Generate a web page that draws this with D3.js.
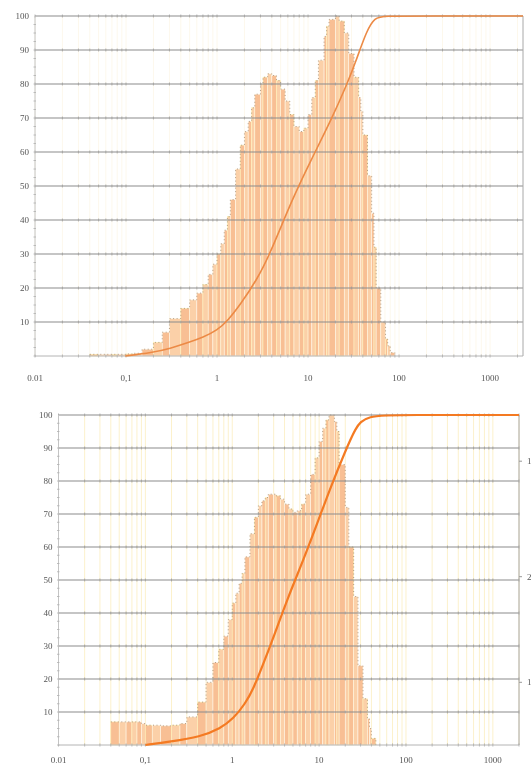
<!DOCTYPE html>
<html>
<head>
<meta charset="utf-8">
<script src="https://cdn.jsdelivr.net/npm/d3@7"></script>
<style>
  body { margin: 0; background: #fff; }
  svg { display: block; filter: blur(0.35px); }
  text { font-family: "Liberation Serif", "DejaVu Serif", serif; font-size: 9px; fill: #555; }
</style>
</head>
<body>
<div id="chart"></div>
<script>
// size classes (µm), bin i spans sizeEdges[i] .. sizeEdges[i+1]
const sizeEdges = [0.04, 0.05, 0.06, 0.07, 0.08, 0.09, 0.1, 0.12, 0.15, 0.2, 0.25, 0.3, 0.4, 0.5,
  0.6, 0.7, 0.8, 0.9, 1, 1.1, 1.2, 1.3, 1.4, 1.6, 1.8, 2, 2.2, 2.4, 2.6, 3, 3.2, 3.6, 4, 4.5, 5,
  5.6, 6.3, 7, 8, 9, 10, 11, 12, 13, 15, 16, 17, 20, 22, 25, 28, 32, 36, 38, 40, 45, 50, 53, 56,
  63, 71, 75, 80, 90, 100];

// relative frequency per class, upper chart (missing = 0)
const topFreq = [0.5, 0.5, 0.5, 0.5, 0.5, 0.5, 0.6, 0.8, 2, 4, 7, 11, 14, 16.5, 18.5, 21, 24, 27,
  30, 33, 37, 41, 46, 55, 62, 66, 69, 73, 77, 80, 82, 83, 82.5, 81, 78.5, 75, 71, 67.5, 66, 67,
  71, 76, 81, 87, 94, 97, 99, 100, 98.5, 95, 89, 82, 76, 72, 65, 53, 42, 32, 20, 10, 5, 3, 1, 0];

// relative frequency per class, lower chart
const bottomFreq = [7, 7, 7, 7, 7, 6.5, 6, 6, 5.8, 6, 6.5, 8.5, 13, 19, 25, 29, 33, 38, 43, 46,
  49, 52, 57, 64, 69, 72.5, 74, 75, 76, 76, 75.5, 74.5, 73, 71.5, 70.5, 71, 73, 76, 82, 87, 92,
  96, 98.5, 100, 98, 95, 85, 72, 60, 45, 24, 14, 8, 5, 2, 0];

// cumulative passing (%)
const topCumSize = [0.098, 0.193, 0.305, 0.49, 0.702, 1, 1.32, 1.79, 2.75, 3.82, 6.67, 10.5, 18.4,
  26.8, 32.9, 44.4, 54.5, 66.6, 200, 2300];
const topCumPct = [0, 1, 2.2, 4, 5.5, 7.5, 10.5, 15, 22.5, 30, 46, 57, 70, 80, 86, 96, 99.5, 100, 100, 100];
const bottomCumSize = [0.1, 0.193, 0.43, 0.73, 1.03, 1.41, 1.75, 2.27, 2.97, 4.42, 6.58, 9.79, 13.5,
  20, 26.1, 34.1, 100, 2000];
const bottomCumPct = [0, 1, 2.5, 5, 8, 12.5, 17, 24.5, 32.5, 45, 56, 68, 78, 89, 96, 100, 100, 100];

const yTicks = [10, 20, 30, 40, 50, 60, 70, 80, 90, 100];
const xTicks = [0.01, 0.1, 1, 10, 100, 1000];
const xTickLabels = ['0.01', '0,1', '1', '10', '100', '1000'];
const rightTickValues = [86, 51, 19];
const rightTickLabels = ['1', '2', '1'];

const width = 531;
const height = 765;

const svg = d3.select('#chart').append('svg')
  .attr('width', width)
  .attr('height', height);

function drawPanel(opts) {
  const x = d3.scaleLog().domain(opts.xDomain).range([opts.left, opts.right]);
  const y = d3.scaleLinear().domain([0, 100]).range([opts.bottom, opts.top]);
  const g = svg.append('g');

  const minors = [];
  xTicks.forEach(t => { for (let k = 1; k < 10; k++) minors.push(t * k); });
  const minorIn = minors.filter(m => m <= opts.xDomain[1]);

  // pale vertical log grid
  if (opts.vGrid) {
    g.append('g').selectAll('line')
      .data(minorIn)
      .join('line')
      .attr('x1', d => x(d)).attr('x2', d => x(d))
      .attr('y1', y(0)).attr('y2', y(100))
      .attr('stroke', opts.vGrid)
      .attr('stroke-width', 1);
  }

  // histogram bars
  const bins = opts.freq.map((v, i) => ({ x0: sizeEdges[i], x1: sizeEdges[i + 1], v: v, i: i }))
    .filter(d => d.v > 0);
  g.append('g').selectAll('rect')
    .data(bins)
    .join('rect')
    .attr('x', d => x(d.x0))
    .attr('width', d => Math.max(x(d.x1) - x(d.x0), 0.5))
    .attr('y', d => y(d.v))
    .attr('height', d => y(0) - y(d.v))
    .attr('fill', d => d.i % 2 ? '#fbd0a8' : '#f8bf94')
    .attr('stroke', d => d.i % 3 ? '#fff7e8' : '#fff0b4')
    .attr('stroke-width', 0.6);

  // dotted outline along bar tops
  const step = [];
  bins.forEach(d => { step.push([d.x0, d.v]); step.push([d.x1, d.v]); });
  step.push([bins[bins.length - 1].x1, 0]);
  g.append('path')
    .attr('d', d3.line().x(d => x(d[0])).y(d => y(d[1]))(step))
    .attr('fill', 'none')
    .attr('stroke', '#a08870')
    .attr('stroke-width', 0.8)
    .attr('stroke-dasharray', '1,2.5');

  // horizontal grid
  g.append('g').selectAll('line')
    .data(yTicks)
    .join('line')
    .attr('x1', opts.left).attr('x2', opts.right)
    .attr('y1', d => y(d)).attr('y2', d => y(d))
    .attr('stroke', '#8c8c8c')
    .attr('stroke-width', 1.1);

  // little minor ticks on the grid lines
  g.append('g').selectAll('g')
    .data([0].concat(yTicks))
    .join('g')
    .each(function(v) {
      d3.select(this).selectAll('line')
        .data(minorIn)
        .join('line')
        .attr('x1', d => x(d)).attr('x2', d => x(d))
        .attr('y1', y(v) - 1.5).attr('y2', y(v) + 1.5)
        .attr('stroke', '#9a9a9a')
        .attr('stroke-width', 0.7);
    });

  // frame: left axis, baseline, right border
  g.append('line')
    .attr('x1', opts.left).attr('x2', opts.left)
    .attr('y1', y(0)).attr('y2', y(100))
    .attr('stroke', '#c4c4c4');
  g.append('line')
    .attr('x1', opts.left).attr('x2', opts.right)
    .attr('y1', y(0)).attr('y2', y(0))
    .attr('stroke', '#b4b4b4');
  g.append('line')
    .attr('x1', opts.right).attr('x2', opts.right)
    .attr('y1', y(0)).attr('y2', y(100))
    .attr('stroke', '#a8a8a8');

  // y minor ticks on the left axis
  g.append('g').selectAll('line')
    .data(d3.range(0, 100, 2.5))
    .join('line')
    .attr('x1', opts.left - 1.5).attr('x2', opts.left + 1)
    .attr('y1', d => y(d)).attr('y2', d => y(d))
    .attr('stroke', '#b0b0b0')
    .attr('stroke-width', 0.8);

  // cumulative curve
  const cum = opts.cumSize.map((s, i) => [s, opts.cumPct[i]]);
  g.append('path')
    .attr('d', d3.line().x(d => x(d[0])).y(d => y(d[1])).curve(d3.curveBasis)(cum))
    .attr('fill', 'none')
    .attr('stroke', opts.curveColor)
    .attr('stroke-width', opts.curveWidth);

  // y labels
  g.append('g').selectAll('text')
    .data(yTicks)
    .join('text')
    .attr('x', opts.left - 6)
    .attr('y', d => y(d))
    .attr('text-anchor', 'end')
    .attr('dominant-baseline', 'central')
    .text(d => d);

  // x labels
  g.append('g').selectAll('text')
    .data(xTicks)
    .join('text')
    .attr('x', d => x(d))
    .attr('y', opts.xLabelY)
    .attr('text-anchor', 'middle')
    .attr('dominant-baseline', 'central')
    .text((d, i) => xTickLabels[i]);

  if (opts.rightLabels) {
    g.append('g').selectAll('text')
      .data(rightTickValues)
      .join('text')
      .attr('x', opts.right + 8)
      .attr('y', d => y(d))
      .attr('dominant-baseline', 'central')
      .text((d, i) => rightTickLabels[i]);
    g.append('g').selectAll('line')
      .data(rightTickValues)
      .join('line')
      .attr('x1', opts.right).attr('x2', opts.right + 3)
      .attr('y1', d => y(d)).attr('y2', d => y(d))
      .attr('stroke', '#999');
  }
}

drawPanel({
  left: 35, right: 523, top: 16, bottom: 356,
  xDomain: [0.01, 2300],
  xLabelY: 378,
  freq: topFreq,
  cumSize: topCumSize, cumPct: topCumPct,
  curveColor: '#ec8a45', curveWidth: 1.6,
  vGrid: '#fdf8ec'
});

drawPanel({
  left: 58.5, right: 519, top: 415, bottom: 745,
  xDomain: [0.01, 2000],
  xLabelY: 760,
  freq: bottomFreq,
  cumSize: bottomCumSize, cumPct: bottomCumPct,
  curveColor: '#f47a22', curveWidth: 2.2,
  vGrid: '#fcf1cc',
  rightLabels: true
});
</script>
</body>
</html>
